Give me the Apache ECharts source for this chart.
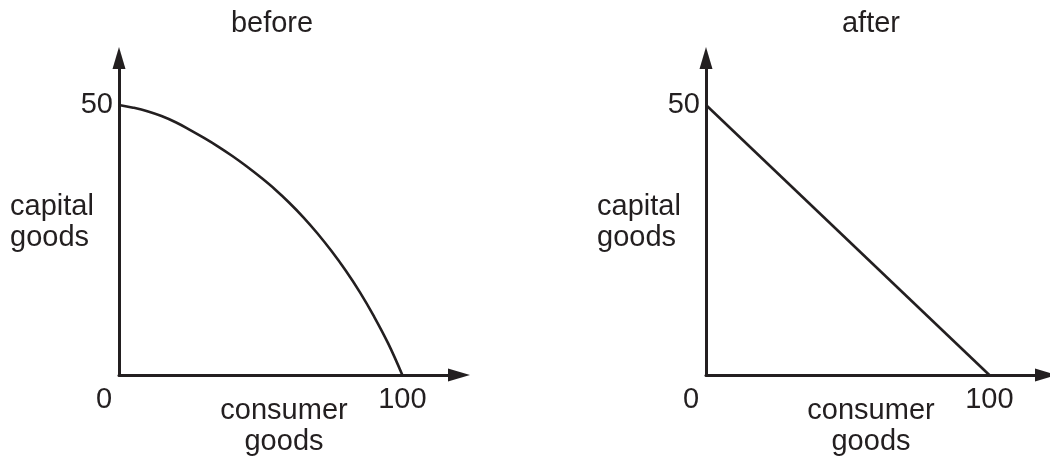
<!DOCTYPE html>
<html>
<head>
<meta charset="utf-8">
<script src="https://cdn.jsdelivr.net/npm/echarts@6/dist/echarts.min.js"></script>
<style>
  html, body { margin: 0; padding: 0; background: #fff; }
  #main { width: 1050px; height: 457px; }
</style>
</head>
<body>
<div id="main"></div>
<script>
var titles = ['before', 'after'];
var xName = 'consumer\ngoods';
var yName = '{e| }\n{a|capital}\n{a|goods}';
// production possibility frontier
var beforeX = [0, 5, 10, 15, 20, 25, 30, 35, 40, 45, 50, 55, 60, 65, 70, 75, 80, 85, 90, 95, 100];
var beforeY = [50, 49.5, 48.85, 47.95, 46.8, 45.4, 43.9, 42.3, 40.55, 38.65, 36.6, 34.4, 31.95, 29.25, 26.25, 22.95, 19.35, 15.35, 10.85, 5.85, 0];
var afterX = [0, 100];
var afterY = [50, 0];
var xTicks = [0, 100];
var yTicks = [50];

var ink = '#231f20';
var font = 'Liberation Sans, Arial, sans-serif';
var fs = 29;
var chart = echarts.init(document.getElementById('main'));

var lefts = [119, 706];

function pairs(xs, ys) {
  return xs.map(function (x, i) { return [x, ys[i]]; });
}

function makeX(i) {
  return {
    gridIndex: i, type: 'value', min: 0, max: 120, interval: 50,
    name: xName, nameLocation: 'middle', nameGap: 20, nameMoveOverlap: false,
    nameTextStyle: { color: ink, fontSize: fs, fontFamily: font, lineHeight: 31, padding: [0, 10, 0, 0] },
    axisLine: { lineStyle: { color: ink, width: 3 }, symbol: ['none', 'triangle'], symbolSize: [13, 22] },
    axisTick: { show: false }, splitLine: { show: false },
    axisLabel: {
      color: ink, fontSize: fs, fontFamily: font, margin: 10,
      formatter: function (v) {
        if (v === 0) return '{o|0}';
        return xTicks.indexOf(v) >= 0 ? String(v) : '';
      },
      rich: { o: { color: ink, fontSize: fs, fontFamily: font, padding: [0, 30, 0, 0] } }
    }
  };
}
function makeY(i) {
  return {
    gridIndex: i, type: 'value', min: 0, max: 58.7, interval: 50,
    name: yName, nameLocation: 'middle', nameGap: 109, nameRotate: 0, nameMoveOverlap: false,
    nameTextStyle: {
      color: ink, fontSize: fs, fontFamily: font, align: 'left',
      rich: {
        e: { fontSize: 10, fontFamily: font, lineHeight: 12 },
        a: { color: ink, fontSize: fs, fontFamily: font, lineHeight: 31 }
      }
    },
    axisLine: { lineStyle: { color: ink, width: 3 }, symbol: ['none', 'triangle'], symbolSize: [13, 22] },
    axisTick: { show: false }, splitLine: { show: false },
    axisLabel: {
      color: ink, fontSize: fs, fontFamily: font, margin: 6,
      formatter: function (v) { return yTicks.indexOf(v) >= 0 ? String(v) : ''; }
    }
  };
}

var option = {
  animation: false,
  title: [
    { text: titles[0], left: 272, top: 9, textAlign: 'center', padding: 0,
      textStyle: { color: ink, fontSize: fs, fontWeight: 'normal', fontFamily: font } },
    { text: titles[1], left: 871, top: 9, textAlign: 'center', padding: 0,
      textStyle: { color: ink, fontSize: fs, fontWeight: 'normal', fontFamily: font } }
  ],
  grid: [
    { left: lefts[0], top: 58, width: 340, height: 317, outerBoundsMode: 'none' },
    { left: lefts[1], top: 58, width: 340, height: 317, outerBoundsMode: 'none' }
  ],
  xAxis: [makeX(0), makeX(1)],
  yAxis: [makeY(0), makeY(1)],
  series: [
    { type: 'line', xAxisIndex: 0, yAxisIndex: 0, data: pairs(beforeX, beforeY), smooth: 0.4,
      showSymbol: false, lineStyle: { color: ink, width: 2.6 } },
    { type: 'line', xAxisIndex: 1, yAxisIndex: 1, data: pairs(afterX, afterY),
      showSymbol: false, lineStyle: { color: ink, width: 2.6 } }
  ]
};
chart.setOption(option);
</script>
</body>
</html>
